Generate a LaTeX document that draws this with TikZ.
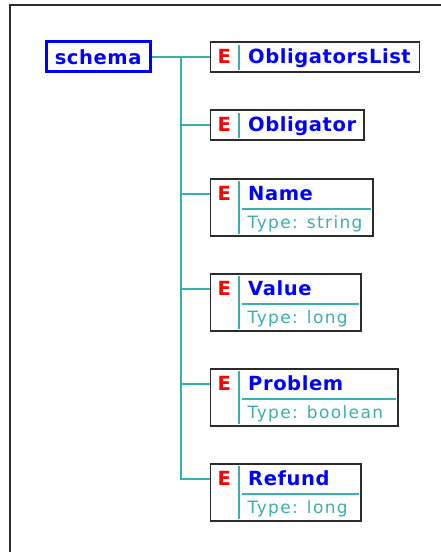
\documentclass[tikz,border=0pt]{standalone}
\usepackage{fontspec}
\setmainfont{DejaVu Sans}
\newfontfamily\tagfont{DejaVu Sans}[LetterSpace=3]
\newfontfamily\typefont{DejaVu Sans}[LetterSpace=8]
\usetikzlibrary{positioning}
\definecolor{xsblue}{HTML}{0000FF}
\definecolor{xsred}{HTML}{FF0000}
\definecolor{xsteal}{HTML}{3AAFAF}
\definecolor{xsgrey}{HTML}{2B2B2B}

\begin{document}
\begin{tikzpicture}[x=1pt,y=-1pt,
root/.style={draw=xsblue,line width=3pt,minimum width=104pt,minimum height=30pt,inner sep=0pt,text=xsblue,font=\tagfont\bfseries\fontsize{19.5}{21}\selectfont},
elem/.style={draw=xsgrey,line width=1.6pt,anchor=north west,inner sep=0pt,minimum height=30pt},
typed/.style={elem,minimum height=57pt},
etag/.style={anchor=base west,inner sep=0pt,text=xsred,font=\tagfont\bfseries\fontsize{19.5}{21}\selectfont},
ename/.style={anchor=base west,inner sep=0pt,text=xsblue,font=\tagfont\bfseries\fontsize{19.5}{21}\selectfont},
etype/.style={anchor=base west,inner sep=0pt,text=xsteal,font=\typefont\fontsize{17}{19}\selectfont},
sep/.style={xsteal,line width=2pt},
conn/.style={xsteal,line width=2pt}]

\useasboundingbox (0,0) rectangle (441,552);
\draw[xsgrey,line width=2pt] (450,5) -- (9.5,5) -- (9.5,560);

\node[root] (schema) at (98.1,56.8) {schema};
\coordinate (fork) at ([xshift=29pt]schema.east);

% single elements
\node[elem,minimum width=209pt] (olist) at (209.5,41) {};
\node[etag] (olistE) at ([shift={(8,22.8)}]olist.north west) {E};
\node[ename] (olistN) at ([shift={(38.5,22.8)}]olist.north west) {ObligatorsList};
\draw[sep] ([shift={(29,4)}]olist.north west) -- ([shift={(29,-3)}]olist.south west);

\node[elem,minimum width=153.5pt] (oblig) at (209.5,109) {};
\node[etag] (obligE) at ([shift={(8,22.8)}]oblig.north west) {E};
\node[ename] (obligN) at ([shift={(38.5,22.8)}]oblig.north west) {Obligator};
\draw[sep] ([shift={(29,4)}]oblig.north west) -- ([shift={(29,-3)}]oblig.south west);

% typed elements
\node[typed,minimum width=162.5pt] (name) at (209.5,178) {};
\node[etag] (nameE) at ([shift={(8,22.8)}]name.north west) {E};
\node[ename] (nameN) at ([shift={(38.5,22.8)}]name.north west) {Name};
\node[etype] (nameT) at ([shift={(38,50.3)}]name.north west) {Type: string};
\draw[sep] ([shift={(29,3)}]name.north west) -- ([shift={(29,-2.5)}]name.south west);
\draw[sep] ([shift={(32.5,31)}]name.north west) -- ([shift={(-2.5,31)}]name.north east);

\node[typed,minimum width=150.5pt] (value) at (209.5,273) {};
\node[etag] (valueE) at ([shift={(8,22.8)}]value.north west) {E};
\node[ename] (valueN) at ([shift={(38.5,22.8)}]value.north west) {Value};
\node[etype] (valueT) at ([shift={(38,50.3)}]value.north west) {Type: long};
\draw[sep] ([shift={(29,3)}]value.north west) -- ([shift={(29,-2.5)}]value.south west);
\draw[sep] ([shift={(32.5,31)}]value.north west) -- ([shift={(-2.5,31)}]value.north east);

\node[typed,minimum width=187.5pt] (problem) at (209.5,368) {};
\node[etag] (problemE) at ([shift={(8,22.8)}]problem.north west) {E};
\node[ename] (problemN) at ([shift={(38.5,22.8)}]problem.north west) {Problem};
\node[etype] (problemT) at ([shift={(38,50.3)}]problem.north west) {Type: boolean};
\draw[sep] ([shift={(29,3)}]problem.north west) -- ([shift={(29,-2.5)}]problem.south west);
\draw[sep] ([shift={(32.5,31)}]problem.north west) -- ([shift={(-2.5,31)}]problem.north east);

\node[typed,minimum width=150.5pt] (refund) at (209.5,463) {};
\node[etag] (refundE) at ([shift={(8,22.8)}]refund.north west) {E};
\node[ename] (refundN) at ([shift={(38.5,22.8)}]refund.north west) {Refund};
\node[etype] (refundT) at ([shift={(38,50.3)}]refund.north west) {Type: long};
\draw[sep] ([shift={(29,3)}]refund.north west) -- ([shift={(29,-2.5)}]refund.south west);
\draw[sep] ([shift={(32.5,31)}]refund.north west) -- ([shift={(-2.5,31)}]refund.north east);

% connectors
\draw[conn] (schema.east) -- (schema.east -| olist.west);
\draw[conn] (fork) |- (obligE -| oblig.west);
\draw[conn] (fork) |- (nameE -| name.west);
\draw[conn] (fork) |- (valueE -| value.west);
\draw[conn] (fork) |- (problemE -| problem.west);
\draw[conn] (fork) |- (refundE -| refund.west);
\end{tikzpicture}
\end{document}
